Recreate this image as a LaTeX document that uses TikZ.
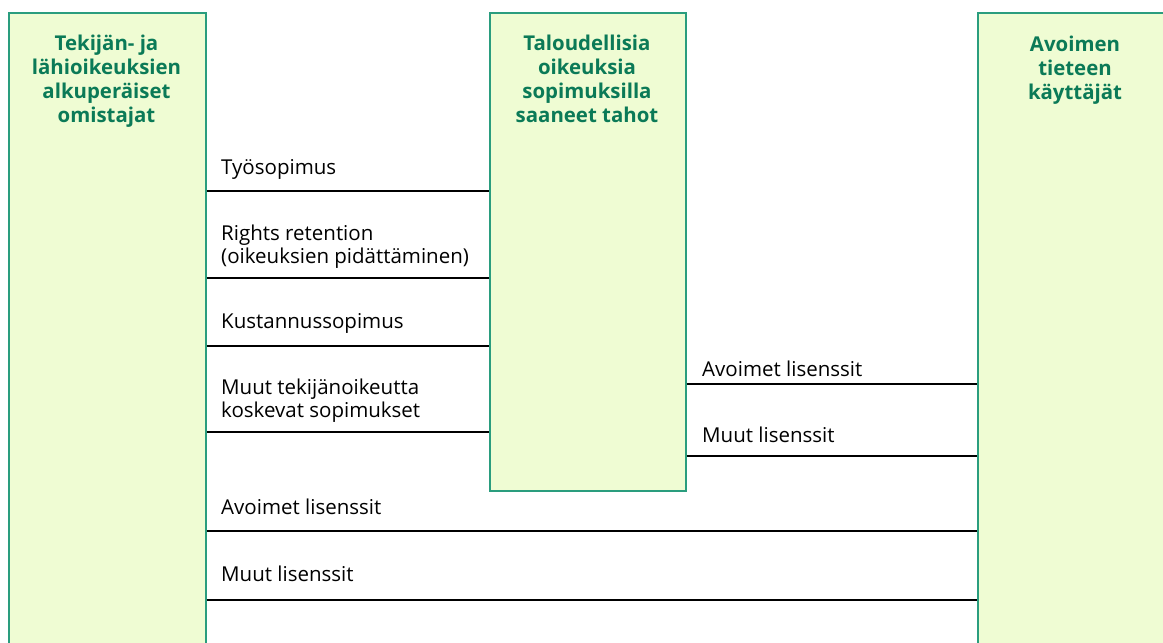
\documentclass[tikz,border=0pt]{standalone}
\usepackage{fontspec}
\setmainfont{Open Sans}
\usepackage{tikz}
\usetikzlibrary{positioning}

\definecolor{boxfill}{HTML}{EFFCD3}
\definecolor{boxline}{HTML}{2A9D7E}
\definecolor{headtext}{HTML}{0B7A57}

\tikzset{
  party/.style={draw=boxline,fill=boxfill,line width=1.5pt,inner sep=0pt,anchor=north west},
  head/.style={text=headtext,font=\fontsize{20.4}{24}\selectfont\bfseries,align=center,anchor=base,inner sep=0pt},
  rule/.style={line width=2.5pt,black},
  lbl/.style={font=\fontsize{20.5}{22.5}\selectfont,align=left,anchor=base west,inner sep=0pt}
}

\begin{document}
\begin{tikzpicture}[x=1pt,y=-1pt]
\useasboundingbox (0,0) rectangle (1163,643);

% Boxes
\node[party,minimum width=197pt,minimum height=650pt] (own) at (8,12) {};
\node[party,minimum width=196pt,minimum height=478pt] (tal) at (489,12) {};
\node[party,minimum width=196pt,minimum height=650pt] (use) at (977,12) {};

% Headers (base = last line)
\node[head] (ownh) at (106.5,122) {Tekijän- ja\\lähioikeuksien\\alkuperäiset\\omistajat};
\node[head] (talh) at (587,122) {Taloudellisia\\oikeuksia\\sopimuksilla\\saaneet tahot};
\node[head] (useh) at (1075,99) {Avoimen\\tieteen\\käyttäjät};

% Contracts between owners and rights holders
\draw[rule] (own.east |- 0,191) -- (tal.west |- 0,191);
\draw[rule] (own.east |- 0,278) -- (tal.west |- 0,278);
\draw[rule] (own.east |- 0,346) -- (tal.west |- 0,346);
\draw[rule] (own.east |- 0,432) -- (tal.west |- 0,432);
\node[lbl] (tyo) at (221,174) {Työsopimus};
\node[lbl] (ret) at (221,263) {Rights retention\\(oikeuksien pidättäminen)};
\node[lbl] (kus) at (221,328) {Kustannussopimus};
\node[lbl] (muu) at (221,417) {Muut tekijänoikeutta\\koskevat sopimukset};

% Licences from rights holders
\draw[rule] (tal.east |- 0,384) -- (use.west |- 0,384);
\draw[rule] (tal.east |- 0,456) -- (use.west |- 0,456);
\node[lbl] (avo1) at (702,376) {Avoimet lisenssit};
\node[lbl] (muu1) at (702,442) {Muut lisenssit};

% Licences from owners
\draw[rule] (own.east |- 0,531) -- (use.west |- 0,531);
\draw[rule] (own.east |- 0,600) -- (use.west |- 0,600);
\node[lbl] (avo2) at (221,514) {Avoimet lisenssit};
\node[lbl] (muu2) at (221,581) {Muut lisenssit};
\end{tikzpicture}
\end{document}
